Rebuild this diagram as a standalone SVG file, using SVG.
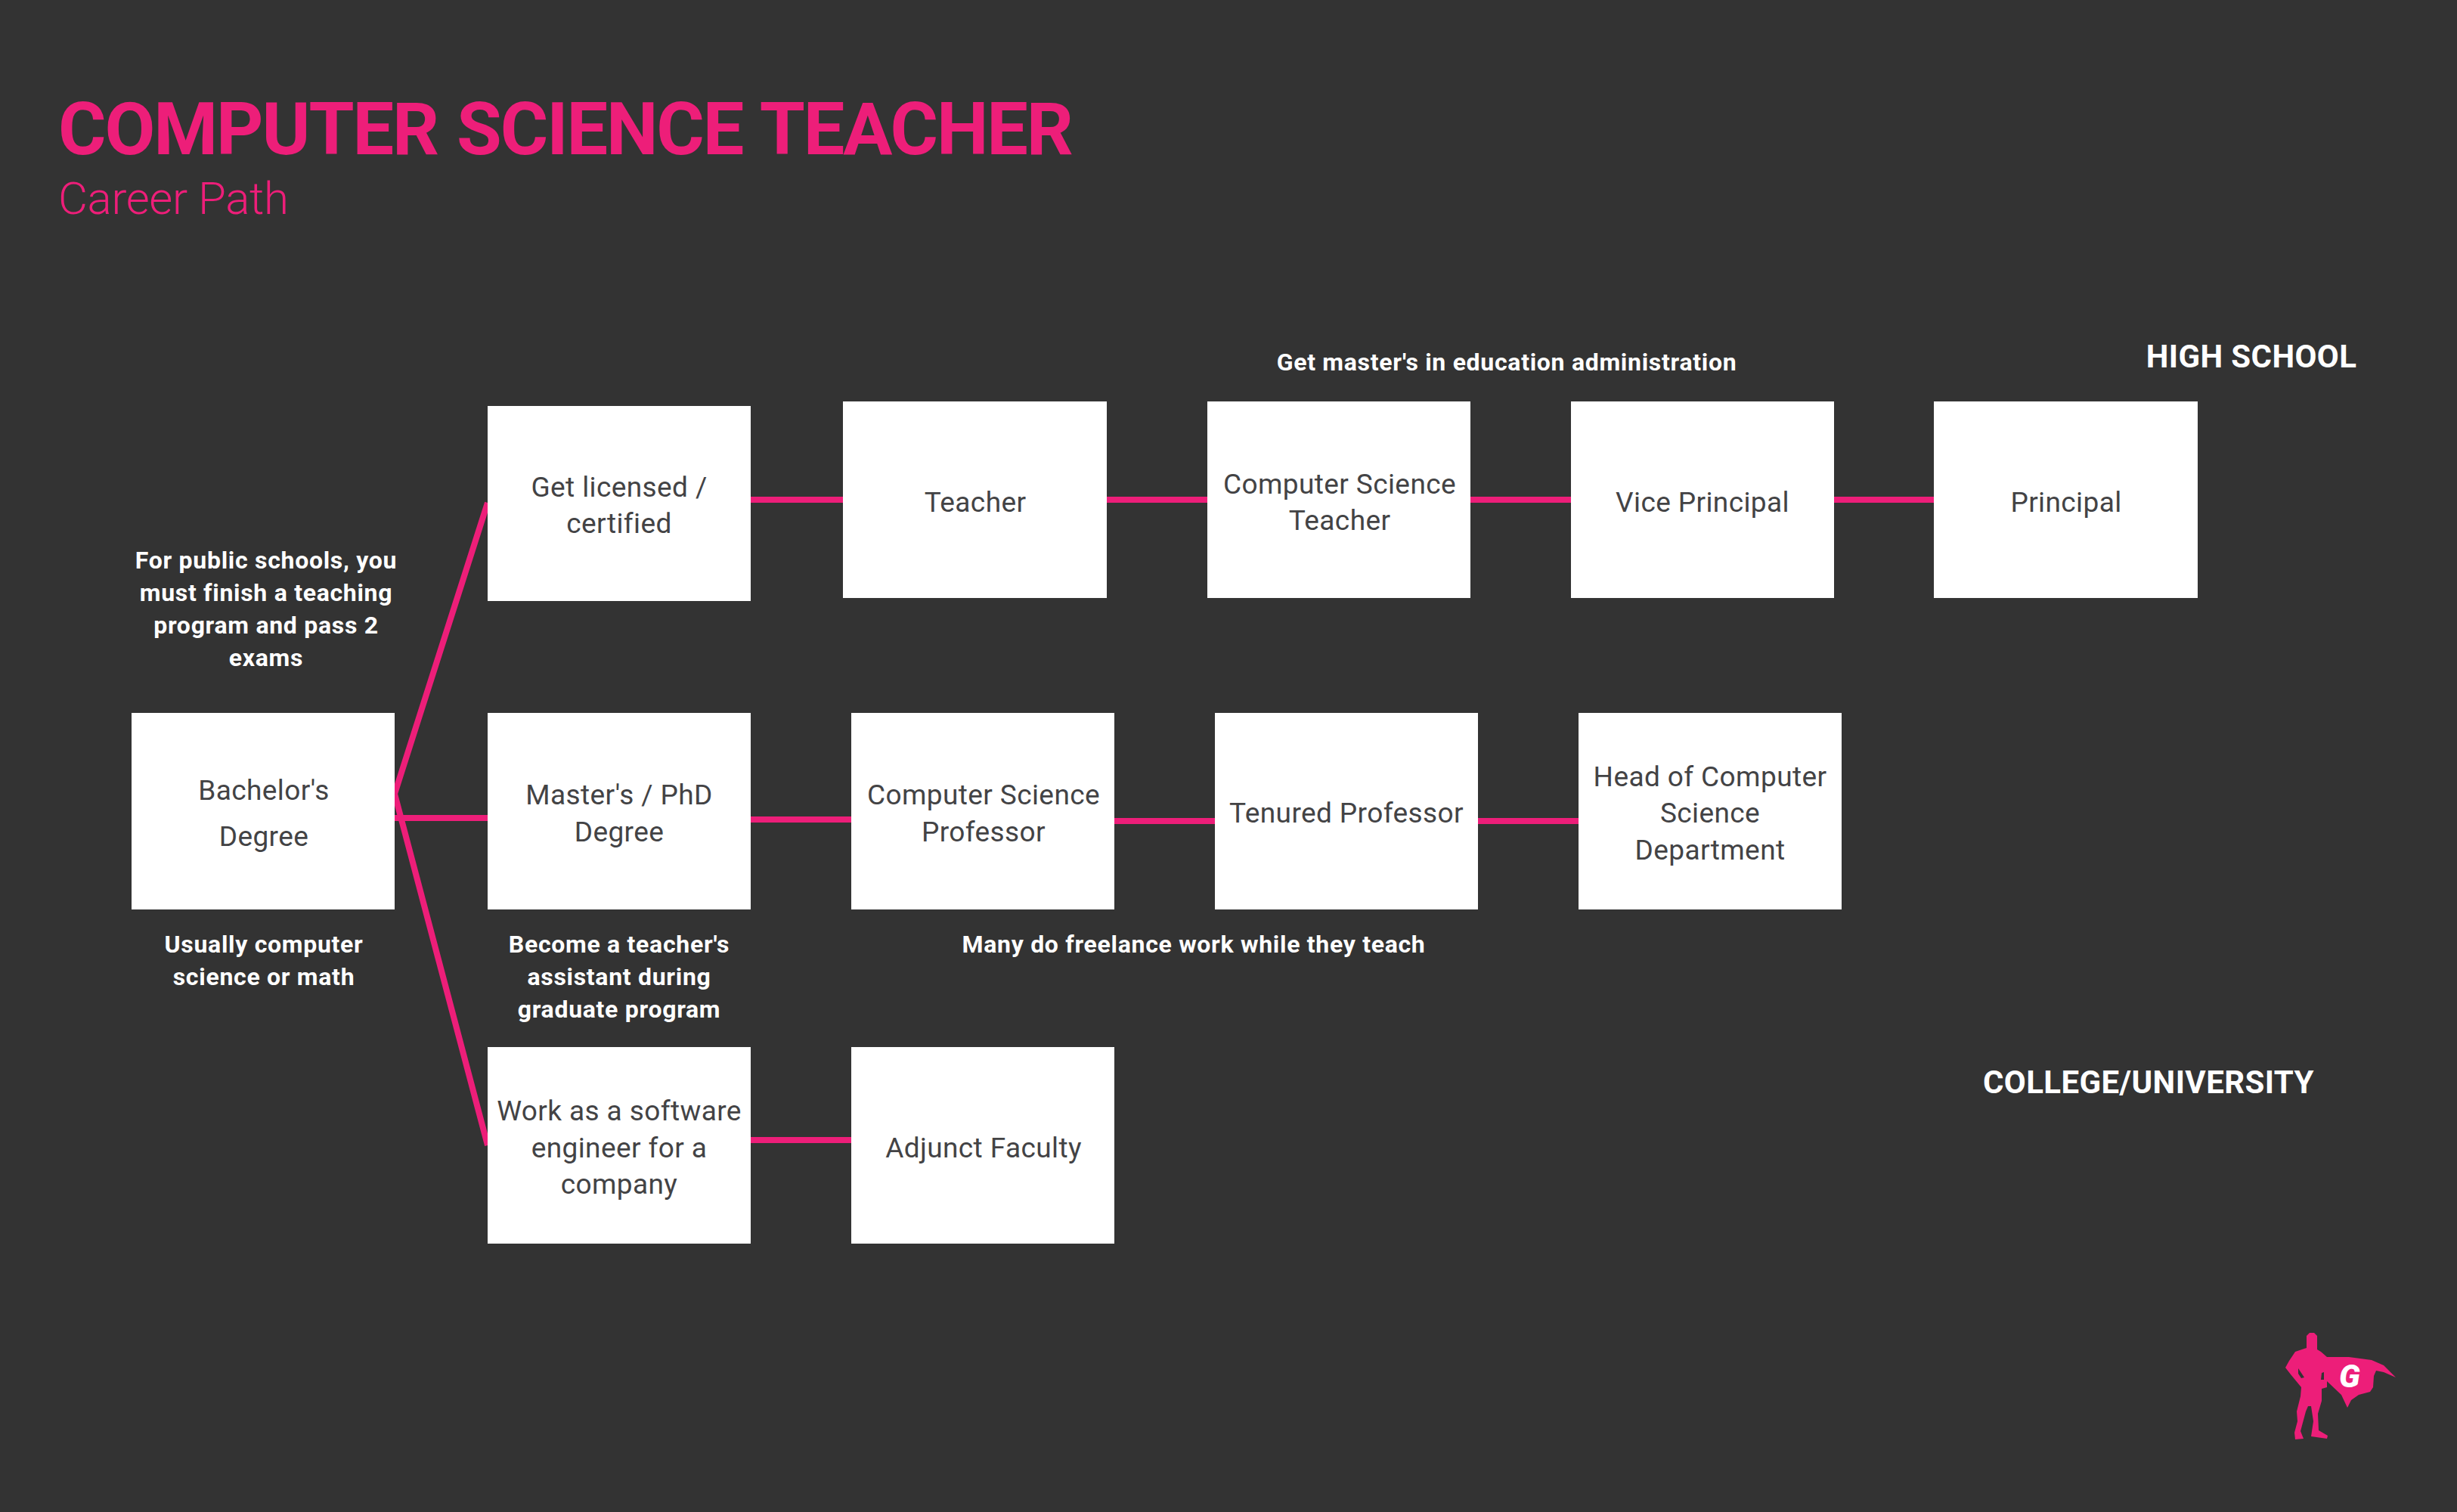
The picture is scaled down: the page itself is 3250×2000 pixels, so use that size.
<svg xmlns="http://www.w3.org/2000/svg" width="3250" height="2000" viewBox="0 0 3250 2000">
<style>
text{font-family:"Roboto","Liberation Sans",sans-serif;text-anchor:middle}
.box{fill:#fff}
.lbl{fill:#434345;font-size:37px;letter-spacing:.4px}
.note{fill:#fff;font-size:32px;font-weight:700;letter-spacing:.7px}
.tier{fill:#fff;font-size:42px;font-weight:700;letter-spacing:.4px}
.wire{stroke:#ed1e79;stroke-width:8;fill:none}
</style>
<rect width="3250" height="2000" fill="#333"/>
<text x="77" y="204" style="text-anchor:start;fill:#ed1e79;font-size:97px;font-weight:700;word-spacing:3px" textLength="1343">COMPUTER SCIENCE TEACHER</text>
<text x="77" y="283" style="text-anchor:start;fill:#ed1e79;font-size:60px;font-weight:300" textLength="305">Career Path</text>
<g id="connectors" class="wire">
<path d="M522 1050L645 665M522 1050L645 1515M522 1082H645"/>
<path d="M993 661H1115M1464 661H1597M1945 661H2078M2426 661H2558"/>
<path d="M993 1084H1126M1474 1086H1607M1955 1086H2088"/>
<path d="M993 1508H1126"/>
</g>
<g id="bachelor"><rect class="box" x="174" y="943" width="348" height="260"/><text class="lbl" x="349" y="1058">Bachelor's</text><text class="lbl" x="349" y="1119">Degree</text></g>
<g id="licensed"><rect class="box" x="645" y="537" width="348" height="258"/><text class="lbl" x="819" y="657">Get licensed /</text><text class="lbl" x="819" y="705">certified</text></g>
<g id="teacher"><rect class="box" x="1115" y="531" width="349" height="260"/><text class="lbl" x="1290" y="677">Teacher</text></g>
<g id="cs-teacher"><rect class="box" x="1597" y="531" width="348" height="260"/><text class="lbl" x="1772" y="653">Computer Science</text><text class="lbl" x="1772" y="701">Teacher</text></g>
<g id="vice-principal"><rect class="box" x="2078" y="531" width="348" height="260"/><text class="lbl" x="2252" y="677">Vice Principal</text></g>
<g id="principal"><rect class="box" x="2558" y="531" width="349" height="260"/><text class="lbl" x="2733" y="677">Principal</text></g>
<g id="graduate"><rect class="box" x="645" y="943" width="348" height="260"/><text class="lbl" x="819" y="1064">Master's / PhD</text><text class="lbl" x="819" y="1113">Degree</text></g>
<g id="cs-professor"><rect class="box" x="1126" y="943" width="348" height="260"/><text class="lbl" x="1301" y="1064">Computer Science</text><text class="lbl" x="1301" y="1113">Professor</text></g>
<g id="tenured"><rect class="box" x="1607" y="943" width="348" height="260"/><text class="lbl" x="1781" y="1088">Tenured Professor</text></g>
<g id="head"><rect class="box" x="2088" y="943" width="348" height="260"/><text class="lbl" x="2262" y="1040">Head of Computer</text><text class="lbl" x="2262" y="1088">Science</text><text class="lbl" x="2262" y="1137">Department</text></g>
<g id="engineer"><rect class="box" x="645" y="1385" width="348" height="260"/><text class="lbl" x="819" y="1482">Work as a software</text><text class="lbl" x="819" y="1531">engineer for a</text><text class="lbl" x="819" y="1579">company</text></g>
<g id="adjunct"><rect class="box" x="1126" y="1385" width="348" height="260"/><text class="lbl" x="1301" y="1531">Adjunct Faculty</text></g>
<g id="notes">
<text class="note" x="352" y="752">For public schools, you</text><text class="note" x="352" y="795">must finish a teaching</text><text class="note" x="352" y="838">program and pass 2</text><text class="note" x="352" y="881">exams</text>
<text class="note" x="349" y="1260">Usually computer</text><text class="note" x="349" y="1303">science or math</text>
<text class="note" x="819" y="1260">Become a teacher's</text><text class="note" x="819" y="1303">assistant during</text><text class="note" x="819" y="1346">graduate program</text>
<text class="note" x="1579" y="1260">Many do freelance work while they teach</text>
<text class="note" x="1993" y="490">Get master's in education administration</text>
</g>
<text class="tier" x="2978" y="486">HIGH SCHOOL</text>
<text class="tier" x="2842" y="1446">COLLEGE/UNIVERSITY</text>
<g id="logo">
<path fill="#ed1e79" fill-rule="evenodd" d="M3051 1767L3055 1763H3061L3065 1767V1785L3070 1788L3078 1795L3107 1795L3137 1799L3153 1806L3169 1822L3153 1815L3143 1813L3140 1820L3139 1835L3135 1841L3120 1845L3110 1852L3105 1862L3097 1845L3078 1827V1835L3071 1837V1853L3066 1870L3067 1892L3079 1899L3078 1903L3057 1900L3060 1880L3057 1860H3053L3050 1867L3043 1893L3047 1903L3036 1904L3035 1895L3039 1880L3038 1867L3043 1847L3044 1835L3030 1818L3023 1809L3028 1800L3036 1788L3051 1783ZM3040 1810L3048 1822L3044 1823L3040 1817ZM3071 1816L3074 1815V1825H3070Z"/>
<text x="3108" y="1835" style="fill:#fff;font-size:42px;font-weight:900;font-style:italic">G</text>
</g>
</svg>
